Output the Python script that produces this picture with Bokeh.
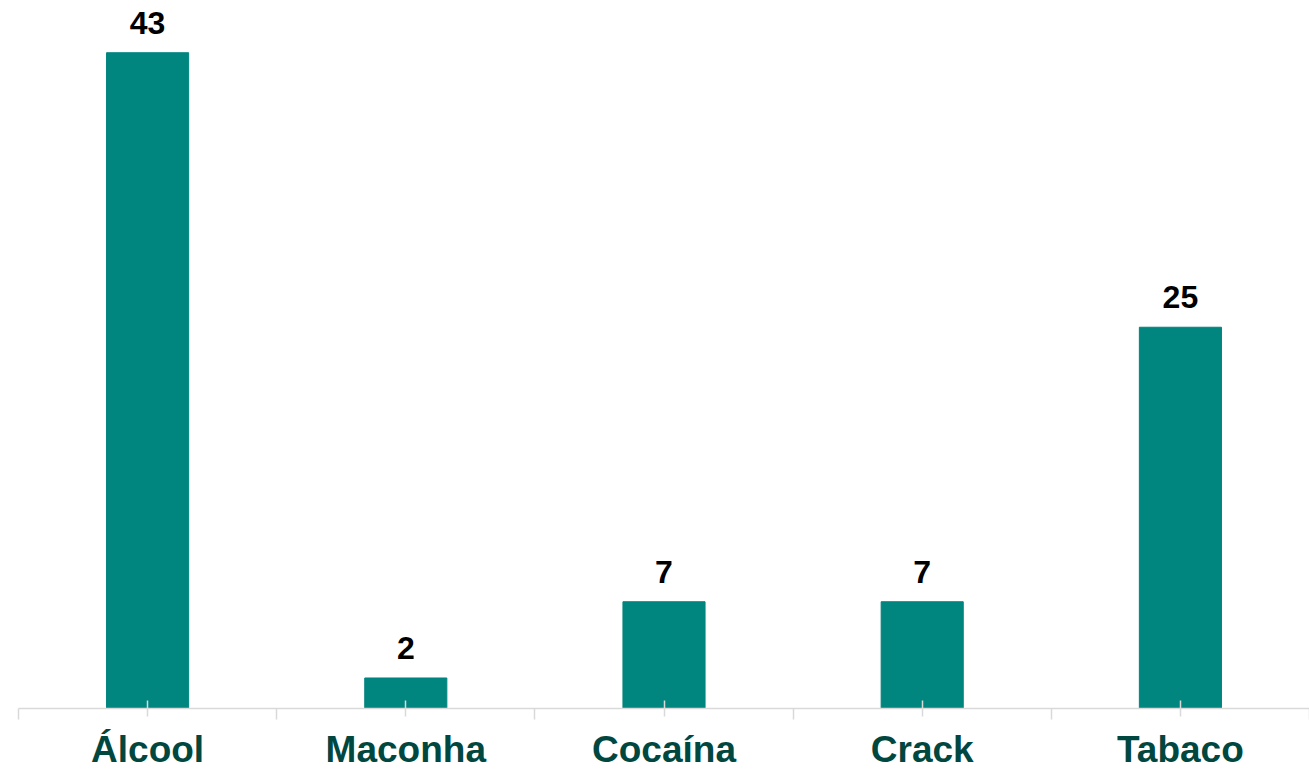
from bokeh.plotting import figure
from bokeh.models import ColumnDataSource, FixedTicker, Range1d
from bokeh.embed import file_html
from bokeh.resources import INLINE
from bokeh.core.properties import value

categories = ["Álcool", "Maconha", "Cocaína", "Crack", "Tabaco"]
values = [43, 2, 7, 7, 25]

xs = list(range(len(categories)))
source = ColumnDataSource(dict(x=xs, top=values, label=[str(v) for v in values]))

p = figure(width=1309, height=772, output_backend="svg", toolbar_location=None,
           x_range=Range1d(-0.5, 4.5), y_range=Range1d(0, 45.9),
           min_border_left=18, min_border_right=0, min_border_top=8, min_border_bottom=0)

p.vbar(x="x", top="top", width=0.318, source=source, color="#00857F")
p.text(x="x", y="top", text="label", source=source, text_align="center",
       text_baseline="bottom", y_offset=-19, text_font=value("Liberation Sans"),
       text_font_style="bold", text_font_size="32px", text_color="black")

p.yaxis.visible = False
p.grid.visible = False
p.outline_line_color = None

ax = p.xaxis[0]
ax.ticker = FixedTicker(ticks=xs, minor_ticks=[-0.5, 0.5, 1.5, 2.5, 3.5, 4.5])
ax.major_label_overrides = {i: c for i, c in enumerate(categories)}
ax.axis_line_color = "#D9D9D9"
ax.axis_line_width = 1.5
ax.major_tick_line_color = "#D9D9D9"
ax.major_tick_line_width = 1.5
ax.major_tick_in = 8
ax.major_tick_out = 8
ax.minor_tick_line_color = "#D9D9D9"
ax.minor_tick_line_width = 1.5
ax.minor_tick_in = 0
ax.minor_tick_out = 11
ax.major_label_text_font = "Liberation Sans"
ax.major_label_text_font_style = "bold"
ax.major_label_text_font_size = "37px"
ax.major_label_text_color = "#00473F"
ax.major_label_standoff = 9

open("out.html", "w").write(file_html(p, INLINE))
